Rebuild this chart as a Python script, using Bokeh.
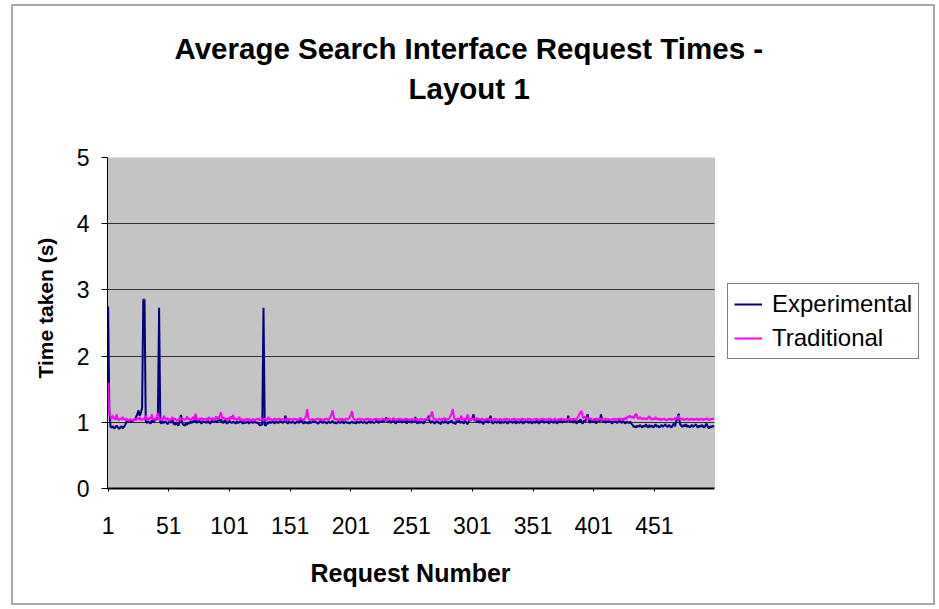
from bokeh.plotting import figure
from bokeh.models import (Range1d, FixedTicker, Legend, LegendItem, Title,
                          LinearAxis, ColumnDataSource, InlineStyleSheet,
                          BoxAnnotation, Grid)
from bokeh.embed import file_html
from bokeh.resources import INLINE

# Average response time (seconds) per request number, requests 1..500
experimental = [
    2.75, 1.20, 0.93, 0.92, 0.94, 0.91, 0.92, 0.95, 0.93, 0.90,
    0.92, 0.94, 0.91, 0.93, 0.96, 1.00, 1.02, 1.01, 1.03, 1.00,
    1.02, 1.04, 1.03, 1.08, 1.12, 1.18, 1.10, 1.14, 1.22, 2.85,
    2.85, 1.02, 0.99, 1.01, 1.00, 0.98, 1.03, 1.00, 1.02, 1.05,
    1.04, 1.08, 2.73, 1.00, 0.98, 1.02, 0.99, 1.01, 1.00, 0.97,
    1.00, 1.03, 0.99, 1.06, 0.98, 0.96, 1.00, 0.97, 0.95, 1.02,
    1.11, 0.99, 0.96, 0.95, 0.98, 0.96, 1.00, 0.98, 1.01, 0.99,
    1.02, 1.00, 1.04, 0.99, 1.01, 1.03, 1.00, 0.98, 1.02, 1.00,
    1.01, 0.99, 1.03, 1.00, 0.98, 1.01, 1.05, 1.00, 1.03, 1.01,
    1.00, 1.07, 1.02, 1.04, 1.00, 0.99, 1.03, 1.01, 0.98, 1.00,
    1.02, 1.00, 0.99, 1.01, 1.00, 0.98, 1.01, 0.99, 1.00, 1.02,
    1.00, 0.98, 1.01, 0.99, 1.00, 1.01, 0.98, 1.00, 1.02, 0.99,
    1.00, 1.01, 0.99, 1.00, 0.98, 0.95, 0.97, 0.96, 2.73, 0.96,
    0.95, 1.00, 0.98, 1.01, 0.99, 1.00, 1.02, 0.98, 1.00, 1.01,
    0.99, 1.00, 1.03, 1.00, 0.99, 1.02, 1.10, 1.00, 0.98, 1.01,
    1.00, 0.99, 1.01, 1.00, 0.98, 1.00, 1.02, 0.99, 1.01, 1.06,
    1.00, 0.98, 1.01, 0.99, 1.00, 0.98, 1.01, 0.99, 1.00, 1.02,
    1.00, 1.01, 0.99, 0.98, 1.00, 1.02, 1.00, 0.99, 1.01, 1.00,
    0.98, 1.00, 1.01, 0.99, 1.00, 1.02, 0.99, 1.00, 0.98, 1.00,
    1.01, 0.99, 1.00, 1.02, 0.98, 1.00, 1.01, 0.99, 1.00, 0.98,
    1.00, 1.01, 0.99, 1.00, 0.98, 1.01, 1.00, 0.99, 1.02, 1.00,
    0.99, 1.01, 1.00, 0.98, 1.00, 1.02, 0.99, 1.01, 1.00, 0.99,
    1.00, 1.03, 1.01, 0.99, 1.02, 1.00, 1.04, 1.01, 1.03, 1.07,
    1.01, 1.00, 1.03, 0.99, 1.02, 1.04, 1.00, 0.98, 1.03, 1.01,
    1.00, 1.04, 0.99, 1.02, 1.00, 1.03, 0.98, 1.05, 1.00, 1.02,
    0.99, 1.03, 1.01, 1.08, 1.00, 0.98, 1.02, 0.99, 1.01, 1.00,
    0.98, 1.02, 1.05, 1.03, 1.10, 1.01, 0.99, 1.02, 1.00, 0.98,
    1.01, 1.03, 0.99, 1.00, 0.97, 1.02, 1.00, 0.99, 1.04, 1.00,
    0.98, 1.01, 1.00, 1.03, 0.99, 1.00, 0.97, 1.02, 1.00, 1.04,
    0.99, 1.01, 1.00, 0.98, 1.03, 1.00, 0.97, 1.01, 1.05, 1.03,
    1.06, 1.12, 1.02, 1.05, 1.00, 1.03, 0.99, 1.04, 1.00, 0.97,
    1.02, 1.00, 1.04, 0.99, 1.03, 1.10, 1.01, 0.98, 1.00, 1.02,
    0.99, 1.00, 1.03, 0.98, 1.01, 1.00, 0.99, 1.02, 1.00, 0.98,
    1.01, 1.00, 1.03, 0.99, 1.00, 1.02, 0.98, 1.01, 1.00, 0.99,
    1.03, 1.00, 0.98, 1.01, 1.00, 1.04, 0.99, 1.00, 1.02, 0.98,
    1.00, 1.01, 0.99, 1.03, 1.00, 0.98, 1.02, 1.00, 1.05, 0.99,
    1.01, 1.00, 1.03, 0.98, 1.00, 1.04, 1.01, 0.99, 1.02, 1.00,
    0.98, 1.03, 1.00, 1.05, 0.99, 1.02, 1.00, 1.04, 1.01, 1.10,
    1.02, 1.00, 1.04, 0.99, 1.03, 1.01, 0.98, 1.02, 1.00, 1.05,
    1.00, 0.98, 1.03, 1.01, 1.06, 1.12, 1.02, 0.99, 1.04, 1.01,
    1.00, 1.03, 0.98, 1.02, 1.05, 1.01, 1.12, 1.03, 1.00, 1.02,
    0.99, 1.04, 1.01, 1.00, 1.03, 0.98, 1.01, 1.00, 1.02, 0.99,
    1.00, 1.03, 1.01, 0.99, 1.02, 1.00, 0.98, 1.01, 1.00, 0.99,
    1.01, 0.98, 0.96, 0.93, 0.94, 0.92, 0.95, 0.93, 0.96, 0.94,
    0.92, 0.95, 0.93, 0.97, 0.94, 0.92, 0.96, 0.93, 0.95, 0.92,
    0.94, 0.97, 0.93, 0.95, 0.92, 0.94, 0.96, 0.93, 0.95, 0.97,
    0.94, 0.93, 0.96, 0.94, 0.92, 0.95, 0.98, 0.94, 1.02, 1.06,
    1.13, 0.98, 0.95, 0.93, 0.96, 0.94, 0.97, 0.93, 0.95, 0.92,
    0.94, 0.96, 0.93, 0.95, 0.97, 0.94, 0.92, 0.95, 0.93, 0.96,
    0.94, 0.92, 0.95, 0.98, 0.93, 0.91, 0.94, 0.92, 0.95, 0.93,
]

traditional = [
    1.60, 1.15, 1.08, 1.05, 1.10, 1.06, 1.04, 1.12, 1.05, 1.03,
    1.06, 1.04, 1.08, 1.05, 1.03, 1.06, 1.04, 1.02, 1.05, 1.03,
    1.04, 1.02, 1.05, 1.03, 1.06, 1.04, 1.08, 1.03, 1.05, 1.04,
    1.06, 1.10, 1.04, 1.03, 1.07, 1.05, 1.12, 1.04, 1.06, 1.03,
    1.09, 1.14, 1.05, 1.03, 1.06, 1.04, 1.10, 1.05, 1.03, 1.07,
    1.04, 1.02, 1.05, 1.08, 1.03, 1.06, 1.04, 1.02, 1.05, 1.03,
    1.07, 1.04, 1.06, 1.03, 1.05, 1.09, 1.04, 1.06, 1.03, 1.05,
    1.08, 1.04, 1.13, 1.05, 1.03, 1.06, 1.04, 1.07, 1.03, 1.05,
    1.04, 1.06, 1.03, 1.08, 1.05, 1.04, 1.07, 1.03, 1.05, 1.09,
    1.04, 1.06, 1.10, 1.15, 1.05, 1.08, 1.04, 1.06, 1.03, 1.07,
    1.04, 1.09, 1.05, 1.11, 1.04, 1.06, 1.03, 1.05, 1.08, 1.04,
    1.03, 1.05, 1.02, 1.04, 1.06, 1.03, 1.05, 1.04, 1.02, 1.05,
    1.04, 1.03, 1.05, 1.04, 1.06, 1.03, 1.04, 1.05, 1.03, 1.06,
    1.04, 1.03, 1.08, 1.04, 1.05, 1.03, 1.04, 1.06, 1.03, 1.05,
    1.04, 1.06, 1.03, 1.05, 1.04, 1.03, 1.05, 1.04, 1.06, 1.03,
    1.05, 1.04, 1.03, 1.06, 1.04, 1.05, 1.03, 1.04, 1.07, 1.05,
    1.04, 1.03, 1.06, 1.09, 1.20, 1.06, 1.04, 1.03, 1.05, 1.04,
    1.03, 1.05, 1.04, 1.06, 1.03, 1.05, 1.04, 1.03, 1.05, 1.04,
    1.06, 1.03, 1.05, 1.08, 1.12, 1.18, 1.07, 1.04, 1.05, 1.03,
    1.04, 1.06, 1.03, 1.05, 1.04, 1.03, 1.06, 1.04, 1.05, 1.08,
    1.12, 1.17, 1.06, 1.04, 1.03, 1.05, 1.04, 1.06, 1.03, 1.05,
    1.04, 1.03, 1.05, 1.04, 1.06, 1.03, 1.05, 1.04, 1.03, 1.05,
    1.04, 1.06, 1.03, 1.05, 1.04, 1.03, 1.06, 1.04, 1.05, 1.03,
    1.04, 1.06, 1.05, 1.03, 1.04, 1.07, 1.04, 1.03, 1.05, 1.04,
    1.06, 1.03, 1.05, 1.04, 1.03, 1.06, 1.04, 1.05, 1.03, 1.04,
    1.05, 1.04, 1.03, 1.06, 1.04, 1.05, 1.03, 1.04, 1.06, 1.04,
    1.03, 1.05, 1.04, 1.06, 1.05, 1.08, 1.12, 1.16, 1.06, 1.04,
    1.05, 1.03, 1.04, 1.06, 1.03, 1.05, 1.04, 1.07, 1.03, 1.05,
    1.04, 1.06, 1.09, 1.14, 1.20, 1.07, 1.04, 1.03, 1.06, 1.04,
    1.05, 1.10, 1.04, 1.03, 1.06, 1.04, 1.12, 1.05, 1.03, 1.04,
    1.06, 1.04, 1.05, 1.03, 1.07, 1.04, 1.05, 1.03, 1.06, 1.04,
    1.03, 1.05, 1.04, 1.06, 1.03, 1.05, 1.04, 1.03, 1.06, 1.04,
    1.05, 1.03, 1.04, 1.06, 1.04, 1.03, 1.05, 1.04, 1.06, 1.03,
    1.05, 1.04, 1.03, 1.05, 1.04, 1.06, 1.03, 1.04, 1.05, 1.03,
    1.04, 1.06, 1.03, 1.05, 1.04, 1.03, 1.06, 1.04, 1.05, 1.03,
    1.04, 1.05, 1.03, 1.06, 1.04, 1.03, 1.05, 1.04, 1.06, 1.03,
    1.05, 1.04, 1.03, 1.06, 1.04, 1.05, 1.03, 1.04, 1.06, 1.04,
    1.03, 1.05, 1.04, 1.06, 1.03, 1.05, 1.04, 1.03, 1.05, 1.04,
    1.06, 1.03, 1.05, 1.04, 1.06, 1.03, 1.05, 1.08, 1.12, 1.15,
    1.17, 1.08, 1.06, 1.09, 1.05, 1.07, 1.04, 1.06, 1.05, 1.03,
    1.05, 1.04, 1.06, 1.03, 1.05, 1.04, 1.06, 1.03, 1.05, 1.04,
    1.06, 1.03, 1.05, 1.04, 1.03, 1.05, 1.04, 1.06, 1.03, 1.05,
    1.04, 1.06, 1.05, 1.03, 1.06, 1.04, 1.07, 1.05, 1.09, 1.08,
    1.10, 1.07, 1.09, 1.06, 1.11, 1.13, 1.07, 1.05, 1.08, 1.06,
    1.04, 1.07, 1.05, 1.06, 1.04, 1.08, 1.09, 1.05, 1.04, 1.06,
    1.04, 1.08, 1.05, 1.04, 1.06, 1.03, 1.05, 1.04, 1.06, 1.04,
    1.03, 1.05, 1.04, 1.06, 1.03, 1.05, 1.04, 1.07, 1.05, 1.08,
    1.10, 1.05, 1.04, 1.06, 1.03, 1.05, 1.04, 1.06, 1.03, 1.05,
    1.04, 1.06, 1.03, 1.05, 1.04, 1.06, 1.03, 1.05, 1.04, 1.06,
    1.03, 1.05, 1.04, 1.06, 1.05, 1.03, 1.05, 1.04, 1.06, 1.05,
]

requests = list(range(1, len(experimental) + 1))
x_tick_values = [1, 51, 101, 151, 201, 251, 301, 351, 401, 451]
y_tick_values = [0, 1, 2, 3, 4, 5]

FONT = "Liberation Sans"

# category span of the plot area, and the extra room kept on its right
# for the legend (the frame runs on past the last request)
x_lo = 0.5
x_hi = len(requests) + 0.5
px_per_request = 607 / len(requests)
x_view_end = x_lo + 823 / px_per_request

source = ColumnDataSource(data=dict(request=requests,
                                    experimental=experimental,
                                    traditional=traditional))

# grey frame drawn round the whole chart area
frame_css = InlineStyleSheet(css="""
:host { position: relative; }
:host::after {
  content: ""; position: absolute; left: 11px; top: 4px; right: 4px; bottom: 4px;
  border: 2px solid #a8a8a8; pointer-events: none; z-index: 10;
}
""")

p = figure(width=939, height=609, output_backend="svg", toolbar_location=None,
           x_range=Range1d(x_lo, x_view_end), y_range=Range1d(0, 5),
           min_border_left=107, min_border_right=9,
           min_border_top=157, min_border_bottom=121,
           background_fill_color=None, border_fill_color="white",
           outline_line_color=None, stylesheets=[frame_css])

xa = p.below[0]
ya = p.left[0]

# grey plot area
plot_area = BoxAnnotation(left=x_lo, right=x_hi, bottom=0, top=5,
                          fill_color="#c4c4c4", fill_alpha=1.0,
                          line_color="#808080", line_width=1, level="image")
p.add_layout(plot_area)

# horizontal gridlines, limited to the plot area
p.xgrid.grid_line_color = None
p.ygrid.ticker = FixedTicker(ticks=y_tick_values)
p.ygrid.grid_line_color = "#303030"
p.ygrid.grid_line_width = 1
if "cross_bounds" in Grid.properties():
    p.ygrid.cross_bounds = (x_lo, x_hi)
else:
    p.ygrid.grid_line_color = None
    p.segment(x0=[x_lo] * len(y_tick_values), y0=y_tick_values,
              x1=[x_hi] * len(y_tick_values), y1=y_tick_values,
              line_color="#303030", line_width=1, level="underlay")

r_exp = p.line("request", "experimental", source=source, line_color="#000080",
               line_width=2)
r_trad = p.line("request", "traditional", source=source, line_color="#ff00ff",
                line_width=2)

# axes
xa.ticker = FixedTicker(ticks=x_tick_values)
xa.bounds = (x_lo, x_hi)
xa.major_tick_in = 0
xa.major_tick_out = 3
xa.minor_tick_line_color = None
xa.major_label_standoff = 25
xa.axis_line_width = 2

ya.ticker = FixedTicker(ticks=y_tick_values)
ya.major_tick_in = 0
ya.major_tick_out = 6
ya.minor_tick_line_color = None
ya.major_label_standoff = 12
ya.axis_line_width = 1

for ax in (xa, ya):
    ax.axis_line_color = "black"
    ax.major_tick_line_color = "black"
    ax.major_label_text_font = FONT
    ax.major_label_text_font_size = "23px"
    ax.major_label_text_color = "black"

# axis titles, placed against the plot area rather than the whole frame
x_title = Title(text="Request Number", align="left", offset=203,
                text_font=FONT, text_font_size="25px", text_font_style="bold",
                text_color="black", standoff=41)
p.add_layout(x_title, "below")

y_title = Title(text="Time taken (s)", align="left", offset=110,
                text_font=FONT, text_font_size="21px", text_font_style="bold",
                text_color="black", standoff=34)
p.add_layout(y_title, "left")

# empty band between the heading and the plot area
gap = LinearAxis(ticker=FixedTicker(ticks=[600]), axis_line_color=None,
                 major_tick_line_color="white", minor_tick_line_color=None,
                 major_tick_in=0, major_tick_out=50, major_label_standoff=0,
                 major_label_overrides={600: ""},
                 major_label_text_font_size="0px",
                 axis_label=None, axis_label_standoff=0)
p.add_layout(gap, "above")

# two-line heading, centred over the whole chart
heading_2 = Title(text="Layout 1", align="left", offset=301,
                  text_font=FONT, text_font_size="29.5px", text_font_style="bold",
                  text_color="black", standoff=5)
heading_1 = Title(text="Average Search Interface Request Times -", align="left",
                  offset=67, text_font=FONT, text_font_size="29.5px",
                  text_font_style="bold", text_color="black", standoff=5)
p.add_layout(heading_2, "above")
p.add_layout(heading_1, "above")

legend = Legend(items=[LegendItem(label="Experimental", renderers=[r_exp]),
                       LegendItem(label="Traditional", renderers=[r_trad])],
                location=(620, 129), orientation="vertical",
                label_text_font=FONT, label_text_font_size="24px",
                label_text_color="black", glyph_width=28, label_standoff=10,
                padding=6, spacing=6, margin=0,
                border_line_color="black", border_line_width=1,
                background_fill_color="white", background_fill_alpha=1.0)
p.add_layout(legend, "center")

open("out.html", "w").write(file_html(p, INLINE))
